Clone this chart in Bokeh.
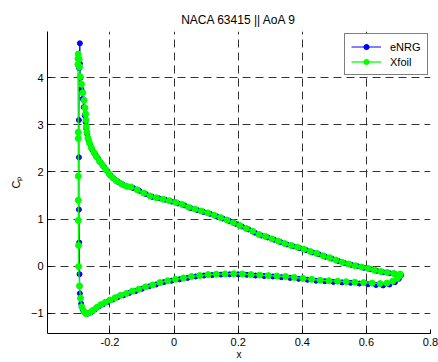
from bokeh.plotting import figure
from bokeh.models import Range1d, FixedTicker, CustomJSTickFormatter, Legend
from bokeh.embed import file_html
from bokeh.resources import INLINE

# Pressure distribution (-Cp) around a NACA 63415 section, angle of attack 9 deg.
# Both series run trailing edge -> upper surface -> leading edge -> lower surface -> trailing edge.

xfoil_x = [
    0.705, 0.685, 0.665, 0.645, 0.625, 0.605, 0.585, 0.565, 0.545, 0.525,
    0.505, 0.485, 0.465, 0.445, 0.425, 0.405, 0.385, 0.365, 0.345, 0.325,
    0.305, 0.285, 0.265, 0.245, 0.225, 0.205, 0.185, 0.165, 0.145, 0.125,
    0.105, 0.085, 0.065, 0.045, 0.025, 0.005, -0.015, -0.035, -0.055, -0.075,
    -0.095, -0.115, -0.135, -0.150, -0.165, -0.180, -0.192, -0.203, -0.213, -0.223,
    -0.233, -0.242, -0.250, -0.258, -0.264, -0.269, -0.272, -0.274, -0.275, -0.276,
    -0.278, -0.281, -0.285, -0.289, -0.293, -0.295, -0.296, -0.299,
    -0.300, -0.300, -0.299, -0.299, -0.299, -0.299, -0.299, -0.298, -0.298, -0.295,
    -0.292, -0.288, -0.282, -0.274, -0.264, -0.254, -0.242, -0.229, -0.215, -0.200,
    -0.184, -0.167, -0.149, -0.130, -0.110, -0.089, -0.067, -0.044, -0.020, 0.004,
    0.029, 0.054, 0.080, 0.106, 0.132, 0.159, 0.186, 0.213, 0.240, 0.267,
    0.294, 0.321, 0.348, 0.375, 0.402, 0.429, 0.456, 0.483, 0.510, 0.537,
    0.564, 0.591, 0.618, 0.643, 0.664, 0.682, 0.696, 0.703, 0.705,
]
xfoil_cp = [
    -0.17, -0.155, -0.135, -0.115, -0.085, -0.05, -0.02, 0.01, 0.045, 0.08,
    0.13, 0.18, 0.22, 0.27, 0.31, 0.36, 0.40, 0.44, 0.48, 0.53,
    0.58, 0.63, 0.67, 0.74, 0.80, 0.86, 0.92, 0.98, 1.03, 1.08,
    1.13, 1.17, 1.21, 1.25, 1.31, 1.35, 1.39, 1.42, 1.45, 1.49,
    1.55, 1.62, 1.68, 1.70, 1.75, 1.81, 1.88, 1.96, 2.05, 2.14,
    2.23, 2.32, 2.41, 2.51, 2.61, 2.72, 2.84, 2.96, 3.10, 3.23,
    3.36, 3.52, 3.68, 3.86, 4.02, 4.23, 4.39, 4.50,
    4.40, 4.28, 2.84, 2.71, 1.91, 1.40, 0.97, 0.44, -0.01, -0.42,
    -0.68, -0.86, -0.96, -1.01, -0.99, -0.94, -0.88, -0.82, -0.77, -0.72,
    -0.67, -0.62, -0.58, -0.53, -0.49, -0.44, -0.40, -0.35, -0.31, -0.28,
    -0.25, -0.22, -0.20, -0.18, -0.17, -0.165, -0.16, -0.165, -0.18, -0.19,
    -0.20, -0.21, -0.22, -0.24, -0.26, -0.28, -0.30, -0.31, -0.32, -0.33,
    -0.34, -0.35, -0.36, -0.37, -0.36, -0.32, -0.26, -0.20, -0.17,
]

enrg_x = [
    0.708, 0.690, 0.672, 0.652, 0.632, 0.612, 0.592, 0.572, 0.552, 0.532,
    0.512, 0.492, 0.472, 0.452, 0.432, 0.412, 0.392, 0.372, 0.352, 0.332,
    0.312, 0.292, 0.272, 0.252, 0.232, 0.212, 0.192, 0.172, 0.152, 0.132,
    0.112, 0.092, 0.072, 0.052, 0.032, 0.012, -0.008, -0.028, -0.048, -0.068,
    -0.088, -0.108, -0.128, -0.145, -0.160, -0.175, -0.188, -0.199, -0.209, -0.219,
    -0.229, -0.238, -0.247, -0.255, -0.261, -0.267, -0.271, -0.274, -0.276, -0.279,
    -0.282, -0.285, -0.289, -0.292, -0.294, -0.294,
    -0.296, -0.297, -0.297, -0.297, -0.296, -0.295, -0.294, -0.290, -0.285, -0.278,
    -0.270, -0.259, -0.248, -0.236, -0.222, -0.207, -0.192, -0.176, -0.158, -0.140,
    -0.120, -0.100, -0.078, -0.056, -0.032, -0.008, 0.017, 0.042, 0.067, 0.093,
    0.119, 0.146, 0.173, 0.200, 0.227, 0.254, 0.281, 0.308, 0.335, 0.362,
    0.389, 0.416, 0.443, 0.470, 0.497, 0.524, 0.551, 0.578, 0.605, 0.630,
    0.652, 0.672, 0.689, 0.701, 0.707,
]
enrg_cp = [
    -0.19, -0.17, -0.15, -0.13, -0.10, -0.065, -0.035, 0.00, 0.03, 0.065,
    0.11, 0.16, 0.20, 0.25, 0.29, 0.34, 0.38, 0.42, 0.46, 0.51,
    0.56, 0.61, 0.65, 0.71, 0.78, 0.84, 0.90, 0.96, 1.01, 1.06,
    1.11, 1.15, 1.19, 1.23, 1.29, 1.33, 1.37, 1.41, 1.44, 1.47,
    1.53, 1.60, 1.66, 1.69, 1.73, 1.79, 1.86, 1.93, 2.02, 2.11,
    2.20, 2.29, 2.38, 2.47, 2.57, 2.68, 2.80, 2.92, 3.06, 3.20,
    3.37, 3.55, 3.75, 4.00, 4.30, 4.73,
    4.20, 3.10, 2.31, 1.20, 0.50, -0.17, -0.58, -0.80, -0.92, -0.99,
    -1.01, -0.98, -0.92, -0.86, -0.81, -0.76, -0.71, -0.66, -0.62, -0.57,
    -0.53, -0.48, -0.43, -0.39, -0.34, -0.31, -0.28, -0.25, -0.22, -0.20,
    -0.19, -0.18, -0.175, -0.175, -0.185, -0.20, -0.21, -0.22, -0.235, -0.25,
    -0.27, -0.29, -0.31, -0.32, -0.335, -0.345, -0.355, -0.37, -0.385, -0.40,
    -0.41, -0.39, -0.34, -0.27, -0.19,
]

x_ticks = [-0.2, 0, 0.2, 0.4, 0.6, 0.8]
y_ticks = [-1, 0, 1, 2, 3, 4]

FONT = "Liberation Sans"

p = figure(width=438, height=362, output_backend="svg", toolbar_location=None,
           x_range=Range1d(-0.395, 0.8), y_range=Range1d(-1.43, 4.98),
           min_border_left=47, min_border_right=8, min_border_top=31,
           min_border_bottom=28)

p.title.text = "NACA 63415 || AoA 9"
p.title.text_font = FONT
p.title.text_font_size = "12px"
p.title.text_font_style = "normal"
p.title.align = "center"
p.title.text_color = "black"
p.title.standoff = 9

p.outline_line_color = None
p.background_fill_color = "white"
p.border_fill_color = "white"

for ax in (p.xaxis[0], p.yaxis[0]):
    ax.axis_line_color = "black"
    ax.axis_line_width = 1
    ax.major_tick_in = 4
    ax.major_tick_out = 0
    ax.minor_tick_line_color = None
    ax.major_tick_line_color = "black"
    ax.major_label_text_font = FONT
    ax.major_label_text_font_size = "11px"
    ax.major_label_text_color = "black"
    ax.axis_label_text_font = FONT
    ax.axis_label_text_font_style = "normal"
    ax.axis_label_text_color = "black"

p.xaxis.ticker = FixedTicker(ticks=x_ticks)
p.yaxis.ticker = FixedTicker(ticks=y_ticks)
p.xaxis.formatter = CustomJSTickFormatter(
    code="return Math.abs(tick) < 1e-9 ? '0' : tick.toFixed(1);")
p.xaxis.major_label_standoff = 4
p.yaxis.major_label_standoff = 4

p.xaxis.axis_label = "x"
p.xaxis.axis_label_text_font_size = "10px"
p.xaxis.axis_label_standoff = 0
p.yaxis.axis_label = "C\u209a"
p.yaxis.axis_label_text_font_size = "11px"
p.yaxis.axis_label_standoff = 6

for g in (p.xgrid[0], p.ygrid[0]):
    g.grid_line_color = "#333333"
    g.grid_line_width = 1
    g.grid_line_dash = "8 5"

# eNRG first, Xfoil drawn on top
l1 = p.line(enrg_x, enrg_cp, line_color="#0000ff", line_width=1)
s1 = p.scatter(enrg_x, enrg_cp, marker="circle", size=5,
               fill_color="#0000ff", line_color="#0000ff")
l2 = p.line(xfoil_x, xfoil_cp, line_color="#00ff00", line_width=1.3)
s2 = p.scatter(xfoil_x, xfoil_cp, marker="circle", size=6,
               fill_color="#00ff00", line_color="#00ff00")

legend = Legend(items=[("eNRG", [l1, s1]), ("Xfoil", [l2, s2])],
                location=(297, 258))
legend.border_line_color = "black"
legend.border_line_width = 1.5
legend.background_fill_color = "white"
legend.background_fill_alpha = 1
legend.label_text_font = FONT
legend.label_text_font_size = "11px"
legend.label_text_color = "black"
legend.glyph_width = 30
legend.glyph_height = 13
legend.label_height = 13
legend.label_standoff = 9
legend.padding = 6
legend.spacing = 2
legend.margin = 0
p.add_layout(legend, "center")

open("out.html", "w").write(file_html(p, INLINE))
